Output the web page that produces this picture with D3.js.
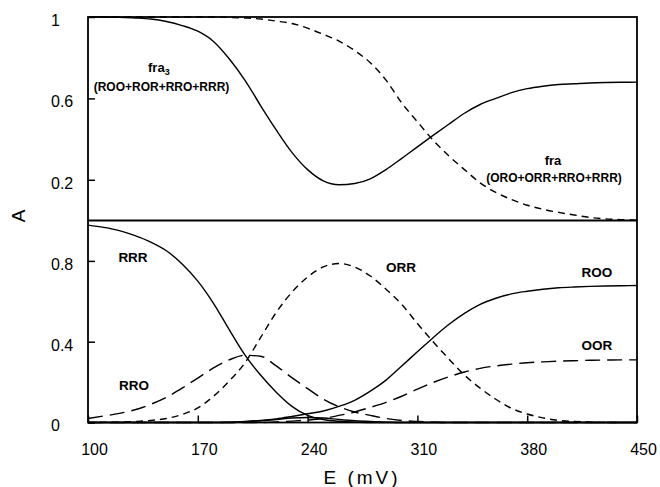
<!DOCTYPE html>
<html>
<head>
<meta charset="utf-8">
<script src="https://cdn.jsdelivr.net/npm/d3@7"></script>
<style>
  body { margin: 0; background: #fff; }
  svg { display: block; }
</style>
</head>
<body>
<div class="container"></div>
<script>
// potential grid (mV)
const E = [100, 110, 120, 130, 140, 150, 160, 170, 180, 190, 200, 210,
  220, 230, 240, 250, 260, 270, 280, 290, 300, 310, 320, 330,
  340, 350, 360, 370, 380, 390, 400, 410, 420, 430, 440, 450];

// top panel
const fra3 = [1.0, 1.0, 0.998, 0.995, 0.99, 0.978, 0.958, 0.93, 0.88, 0.795, 0.69, 0.565,
  0.445, 0.335, 0.25, 0.195, 0.176, 0.182, 0.205, 0.25, 0.305, 0.362, 0.418, 0.473,
  0.527, 0.57, 0.6, 0.628, 0.648, 0.66, 0.668, 0.672, 0.676, 0.678, 0.679, 0.68];
const fra = [1.0, 1.0, 1.0, 1.0, 1.0, 1.0, 1.0, 1.0, 1.0, 0.998, 0.995, 0.99,
  0.98, 0.968, 0.945, 0.915, 0.882, 0.835, 0.775, 0.69, 0.578, 0.485, 0.395, 0.318,
  0.25, 0.185, 0.138, 0.103, 0.075, 0.055, 0.04, 0.027, 0.015, 0.008, 0.004, 0.002];

// bottom panel
const RRR = [0.977, 0.966, 0.95, 0.925, 0.893, 0.85, 0.785, 0.7, 0.59, 0.46, 0.335, 0.235,
  0.15, 0.08, 0.035, 0.015, 0.006, 0.002, 0, 0, 0, 0, 0, 0,
  0, 0, 0, 0, 0, 0, 0, 0, 0, 0, 0, 0];
const RRO = [0.02, 0.032, 0.045, 0.063, 0.09, 0.125, 0.17, 0.22, 0.27, 0.31, 0.333, 0.328,
  0.28, 0.222, 0.168, 0.116, 0.078, 0.052, 0.035, 0.02, 0.01, 0.005, 0.002, 0,
  0, 0, 0, 0, 0, 0, 0, 0, 0, 0, 0, 0];
const ORR = [0, 0.001, 0.002, 0.005, 0.01, 0.02, 0.04, 0.072, 0.13, 0.205, 0.295, 0.42,
  0.545, 0.645, 0.72, 0.77, 0.787, 0.77, 0.725, 0.66, 0.585, 0.49, 0.4, 0.315,
  0.235, 0.17, 0.115, 0.07, 0.042, 0.023, 0.01, 0.005, 0.002, 0, 0, 0];
const ROO = [0, 0, 0, 0, 0, 0, 0, 0, 0, 0.002, 0.005, 0.01,
  0.018, 0.03, 0.043, 0.057, 0.08, 0.11, 0.155, 0.21, 0.28, 0.35, 0.42, 0.485,
  0.54, 0.585, 0.615, 0.637, 0.65, 0.66, 0.667, 0.671, 0.674, 0.676, 0.677, 0.678];
const OOR = [0, 0, 0, 0, 0, 0, 0, 0, 0, 0, 0, 0,
  0.003, 0.007, 0.012, 0.02, 0.035, 0.052, 0.075, 0.1, 0.13, 0.165, 0.198, 0.226,
  0.25, 0.268, 0.28, 0.289, 0.296, 0.3, 0.304, 0.306, 0.308, 0.309, 0.31, 0.31];
const ROR = [0, 0, 0, 0, 0, 0, 0, 0, 0, 0, 0.003, 0.008,
  0.015, 0.022, 0.025, 0.022, 0.015, 0.009, 0.005, 0.002, 0, 0, 0, 0,
  0, 0, 0, 0, 0, 0, 0, 0, 0, 0, 0, 0];

const xTicks = [100, 170, 240, 310, 380, 450];
const yTicksTop = [0.2, 0.6, 1];
const yTicksBot = [0, 0.4, 0.8];

const width = 660, height = 487;
const mLeft = 88, mRight = 637, mTop = 17, mMid = 220.5, mBottom = 422.5;

const x = d3.scaleLinear().domain([100, 450]).range([mLeft, mRight]);
const yTop = d3.scaleLinear().domain([0, 1]).range([mMid, mTop]);
const yBot = d3.scaleLinear().domain([0, 1]).range([mBottom, mMid]);

const svg = d3.select(".container")
  .append("svg")
  .attr("width", width)
  .attr("height", height)
  .attr("font-family", "'Liberation Sans', Arial, sans-serif");

const dashes = { solid: null, short: "7,5", long: "15,7" };

const series = [
  { vals: fra3, y: yTop, dash: "solid" },
  { vals: fra, y: yTop, dash: "short" },
  { vals: RRR, y: yBot, dash: "solid" },
  { vals: RRO, y: yBot, dash: "long" },
  { vals: ORR, y: yBot, dash: "short" },
  { vals: ROO, y: yBot, dash: "solid" },
  { vals: OOR, y: yBot, dash: "long" },
  { vals: ROR, y: yBot, dash: "solid" }
];

series.forEach(s => {
  const line = d3.line()
    .x((d, i) => x(E[i]))
    .y(d => s.y(d))
    .curve(d3.curveMonotoneX);
  svg.append("path")
    .datum(s.vals)
    .attr("fill", "none")
    .attr("stroke", "#000")
    .attr("stroke-width", 1.4)
    .attr("stroke-dasharray", dashes[s.dash])
    .attr("d", line);
});

// frame + panel divider
svg.append("rect")
  .attr("x", mLeft).attr("y", mTop)
  .attr("width", mRight - mLeft).attr("height", mBottom - mTop)
  .attr("fill", "none").attr("stroke", "#000").attr("stroke-width", 1.8);
svg.append("line")
  .attr("x1", mLeft).attr("x2", mRight)
  .attr("y1", mMid).attr("y2", mMid)
  .attr("stroke", "#000").attr("stroke-width", 1.8);

// axes (inward ticks)
const xAxis = svg.append("g")
  .attr("transform", `translate(0,${mBottom})`)
  .call(d3.axisBottom(x).tickValues(xTicks).tickSize(-7).tickFormat(d => d));
xAxis.select(".domain").remove();
xAxis.selectAll("line").attr("stroke-width", 1.5);
xAxis.selectAll("text")
  .attr("y", 21).attr("dx", 6)
  .attr("font-size", 16).attr("font-family", "'Liberation Sans', Arial, sans-serif")
  .attr("fill", "#000");

[[yTop, yTicksTop], [yBot, yTicksBot]].forEach(([sc, tv]) => {
  const g = svg.append("g")
    .attr("transform", `translate(${mLeft},0)`)
    .call(d3.axisLeft(sc).tickValues(tv).tickSize(-7).tickFormat(d => d));
  g.select(".domain").remove();
  g.selectAll("line").attr("stroke-width", 1.5);
  g.selectAll("text")
    .attr("x", -37).attr("dy", "0.52em")
    .attr("text-anchor", "start")
    .attr("font-size", 16).attr("font-family", "'Liberation Sans', Arial, sans-serif")
    .attr("fill", "#000");
});

// axis titles
svg.append("text")
  .attr("x", 362).attr("y", 484)
  .attr("text-anchor", "middle")
  .attr("font-size", 19)
  .attr("letter-spacing", 3)
  .text("E (mV)");
svg.append("text")
  .attr("transform", "translate(25,216) rotate(-90)")
  .attr("text-anchor", "middle")
  .attr("font-size", 19)
  .text("A");

// curve labels
const lab = svg.append("g").attr("font-weight", "bold").attr("fill", "#000");
const fra3Label = lab.append("text").attr("x", 148).attr("y", 72).attr("font-size", 13);
fra3Label.append("tspan").text("fra");
fra3Label.append("tspan").attr("dy", 3).attr("font-size", 9).text("3");
lab.append("text").attr("x", 161.5).attr("y", 91).attr("text-anchor", "middle")
  .attr("font-size", 12).text("(ROO+ROR+RRO+RRR)");
lab.append("text").attr("x", 553).attr("y", 165).attr("text-anchor", "middle")
  .attr("font-size", 13).text("fra");
lab.append("text").attr("x", 554).attr("y", 182).attr("text-anchor", "middle")
  .attr("font-size", 12).text("(ORO+ORR+RRO+RRR)");

const names = ["RRR", "RRO", "ORR", "ROO", "OOR"];
const nameX = [133, 134, 401, 597, 597];
const nameY = [262, 390, 272, 277, 350];
names.forEach((n, i) => {
  lab.append("text")
    .attr("x", nameX[i]).attr("y", nameY[i])
    .attr("text-anchor", "middle")
    .attr("font-size", 13.5)
    .text(n);
});
</script>
</body>
</html>
